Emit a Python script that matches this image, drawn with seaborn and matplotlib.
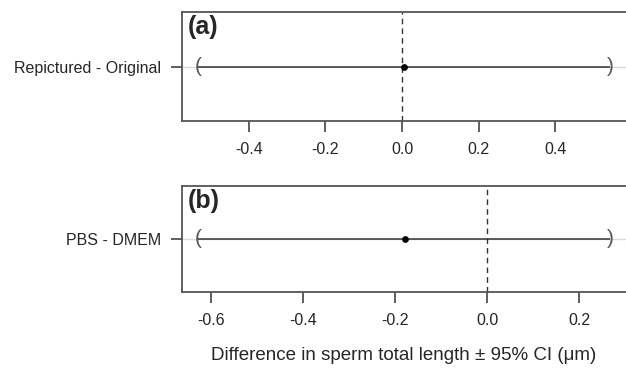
import seaborn as sns
import matplotlib.pyplot as plt
import pandas as pd

sns.set_style("white")
plt.rcParams['font.family'] = ['Liberation Sans', 'DejaVu Sans']

# contrasts, estimates and 95% CI
contrasts = ["Repictured - Original", "PBS - DMEM"]
estimates = [0.005, -0.178]
ci_low = [-0.532, -0.628]
ci_high = [0.542, 0.267]
panel_tags = ["(a)", "(b)"]
xlims = [(-0.574, 0.584), (-0.663, 0.302)]
xticks = [[-0.4, -0.2, 0.0, 0.2, 0.4], [-0.6, -0.4, -0.2, 0.0, 0.2]]

fig = plt.figure(figsize=(6.26, 3.71), dpi=100)
positions = [[182/626, 1-121/371, 1-182/626, 109/371],
             [182/626, 1-292/371, 1-182/626, 106/371]]

for i in range(2):
    ax = fig.add_axes(positions[i])
    df = pd.DataFrame({"contrast": [contrasts[i]], "est": [estimates[i]]})
    ax.axhline(0, color="#d9d9d9", lw=1, zorder=0)
    ax.hlines(0, ci_low[i], ci_high[i], color="#333333", lw=1.1, zorder=1)
    ax.axvline(0, color="#333333", ls="--", lw=1, dashes=(4, 3), zorder=1)
    sns.scatterplot(data=df, x="est", y="contrast", ax=ax, color="black",
                    s=20, edgecolor="black", zorder=3)
    ax.text(ci_low[i], 0, "(", ha="center", va="center", fontsize=15, color="#555555")
    ax.text(ci_high[i], 0, ")", ha="center", va="center", fontsize=15, color="#555555")
    ax.set_xlim(*xlims[i])
    ax.set_ylim(0.5, -0.5)
    ax.set_xticks(xticks[i])
    ax.set_xticklabels([f"{t:.1f}" for t in xticks[i]])
    ax.set_ylabel("")
    ax.set_xlabel("")
    ax.tick_params(axis="both", bottom=True, left=True, length=8, width=1.1,
                   color="#333333", labelsize=11.5, direction="out", pad=7)
    ax.tick_params(axis="y", pad=7)
    ax.spines["right"].set_visible(False)
    for s in ["left", "top", "bottom"]:
        ax.spines[s].set_color("#555555")
        ax.spines[s].set_linewidth(1.3)
    ax.text(0.012, 0.97, panel_tags[i], transform=ax.transAxes, ha="left", va="top",
            fontsize=18, fontweight="bold")

ax.set_xlabel("Difference in sperm total length ± 95% CI (μm)", fontsize=13.5, labelpad=14)

fig.savefig("out.png", dpi=100)
